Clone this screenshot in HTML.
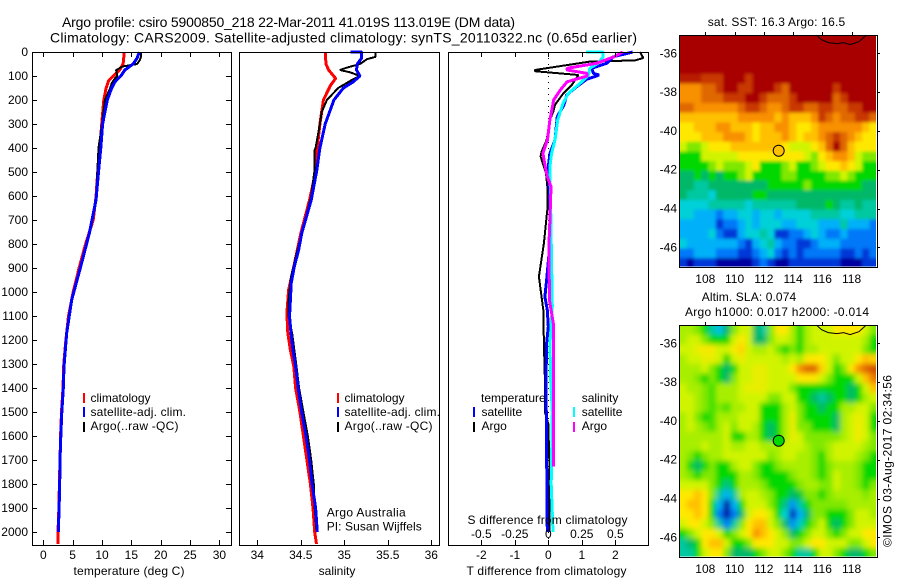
<!DOCTYPE html>
<html>
<head>
<meta charset="utf-8">
<title>Argo profile 5900850_218</title>
<style>
html,body{margin:0;padding:0;background:#fff;}
svg{display:block;}
text{font-family:"Liberation Sans",sans-serif;font-size:12px;fill:#000;}
.frame{fill:none;stroke:#000;stroke-width:1;shape-rendering:crispEdges;}
</style>
</head>
<body>
<svg id="chart" xmlns="http://www.w3.org/2000/svg" width="900" height="580" viewBox="0 0 900 580">
<defs>
<clipPath id="clip-sst"><rect x="679.5" y="35.5" width="196.5" height="231"/></clipPath>
<clipPath id="clip-sla"><rect x="679.5" y="325.5" width="196.5" height="231"/></clipPath>
<filter id="smooth-sla" filterUnits="userSpaceOnUse" x="640" y="290" width="280" height="300"><feGaussianBlur stdDeviation="2.6"/></filter>
<filter id="smooth-sst" filterUnits="userSpaceOnUse" x="640" y="0" width="280" height="300"><feGaussianBlur stdDeviation="1.6"/></filter>
</defs>

<text x="62" y="27" font-size="14" style="font-size:14px" textLength="453">Argo profile: csiro 5900850_218 22-Mar-2011 41.019S 113.019E (DM data)</text>
<text x="50" y="42.5" style="font-size:14px" textLength="587">Climatology: CARS2009. Satellite-adjusted climatology: synTS_20110322.nc (0.65d earlier)</text>

<g id="panels"></g>

<g>
<rect x="83" y="393" width="2" height="10" fill="#f00"/>
<rect x="83" y="407" width="2" height="10" fill="#00f"/>
<rect x="83" y="422" width="2" height="10" fill="#000"/>
<text x="90.5" y="402">climatology</text>
<text x="90.5" y="416" textLength="95.5">satellite-adj. clim.</text>
<text x="90.5" y="430" textLength="88">Argo(..raw -QC)</text>
</g>
<g>
<rect x="337" y="393" width="2" height="10" fill="#f00"/>
<rect x="337" y="407" width="2" height="10" fill="#00f"/>
<rect x="337" y="422" width="2" height="10" fill="#000"/>
<text x="344.5" y="402">climatology</text>
<text x="344.5" y="416" textLength="95.5">satellite-adj. clim.</text>
<text x="344.5" y="430" textLength="88">Argo(..raw -QC)</text>
</g>
<text x="326.7" y="516.5" textLength="79">Argo Australia</text>
<text x="326.7" y="530.5" textLength="95">PI: Susan Wijffels</text>

<g>
<text x="481" y="402">temperature</text>
<text x="581.7" y="402">salinity</text>
<rect x="473" y="407" width="2" height="10" fill="#00f"/>
<rect x="473" y="422" width="2" height="10" fill="#000"/>
<rect x="573" y="407" width="2" height="10" fill="#0ff"/>
<rect x="573" y="422" width="2" height="10" fill="#f0f"/>
<text x="481.5" y="416">satellite</text>
<text x="481.5" y="430">Argo</text>
<text x="581.7" y="416">satellite</text>
<text x="581.7" y="430">Argo</text>
</g>

<text x="129" y="575" text-anchor="middle" textLength="111">temperature (deg C)</text>
<text x="337" y="575" text-anchor="middle">salinity</text>
<text x="546.5" y="575" text-anchor="middle" textLength="160">T difference from climatology</text>
<text x="547.5" y="524" text-anchor="middle" textLength="160">S difference from climatology</text>

<text x="707.7" y="26" textLength="137.5">sat. SST: 16.3 Argo: 16.5</text>
<text x="701.7" y="301" textLength="94.5">Altim. SLA: 0.074</text>
<text x="685" y="316" textLength="184">Argo h1000: 0.017 h2000: -0.014</text>

<g id="maps"></g>

<text transform="translate(891.5,547) rotate(-90)" textLength="172">©IMOS 03-Aug-2017 02:34:56</text>
</svg>

<script>
// ---------- axis tick labels ----------
const depthTicks = [0,100,200,300,400,500,600,700,800,900,1000,1100,1200,1300,1400,1500,1600,1700,1800,1900,2000];
const tempTicks = [0,5,10,15,20,25,30];
const salTicks = [34,34.5,35,35.5,36];
const tDiffTicks = [-2,-1,0,1,2];
const sDiffTicks = [-0.5,-0.25,0,0.25,0.5];
const lonTicks = [108,110,112,114,116,118];
const latTicks = [-36,-38,-40,-42,-44,-46];

// ---------- temperature profiles ----------
const climTempDepths = [0,50,75,100,120,150,200,300,400,500,600,700,800,900,1000,1100,1200,1300,1400,1500,1600,1700,1800,1900,2000,2050];
const climTempValues = [13.8,13.6,13,11.9,11.1,10.7,10.3,9.95,9.66,9.27,9,8.5,7.2,6.1,5.1,4.3,3.85,3.5,3.35,3.1,2.95,2.85,2.75,2.65,2.5,2.5];
const argoTempDepths = [0,25,35,50,60,75,100,110,130,150,200,300,400,500,600,756,894,1033,1171,1310,1400,1500,1600,1700,1800,1900,2000];
const argoTempValues = [16.7,16.6,16.4,16,13.6,12.4,12.6,12.2,11.65,11.4,10.5,10,9.4,9.2,9,7.85,6.35,4.8,3.95,3.5,3.35,3.1,2.95,2.8,2.75,2.65,2.55];
const satTempDepths = [0,25,50,75,100,125,150,200,300,400,500,617,756,894,1033,1171,1310,1400,1500,1600,1700,1800,1900,2000];
const satTempValues = [16.35,16,15.3,13.9,13.2,12.2,11.65,10.9,10.1,9.8,9.4,8.98,7.84,6.37,4.84,3.98,3.53,3.4,3.15,2.98,2.85,2.8,2.7,2.55];

// ---------- salinity profiles ----------
const climSalDepths = [0,50,75,110,140,200,300,400,500,617,756,894,992,1088,1171,1242,1310,1400,1500,1600,1700,1800,1900,2000,2050];
const climSalValues = [34.78,34.79,34.82,34.9,34.84,34.76,34.72,34.69,34.67,34.6,34.5,34.42,34.36,34.34,34.35,34.38,34.42,34.44,34.49,34.53,34.57,34.61,34.64,34.66,34.68];
const argoSalDepths = [0,20,30,50,65,75,85,100,120,150,200,250,300,400,410,500,600,756,880,936,1033,1102,1171,1310,1400,1500,1600,1700,1800,1900,2000];
const argoSalValues = [35.36,35.36,35.26,35.18,35.03,34.95,35.07,35.18,35.07,34.93,34.8,34.74,34.72,34.67,34.655,34.655,34.62,34.51,34.425,34.387,34.36,34.36,34.4,34.45,34.48,34.53,34.58,34.62,34.65,34.66,34.68];
const satSalDepths = [0,0,25,50,75,100,125,150,200,300,400,500,617,756,825,894,963,1033,1102,1171,1242,1310,1400,1500,1600,1700,1800,1900,2000];
const satSalValues = [35.07,35.2,35.2,35.15,35.14,35.18,35.1,34.99,34.88,34.78,34.72,34.68,34.62,34.51,34.475,34.425,34.39,34.38,34.37,34.387,34.41,34.44,34.47,34.51,34.56,34.6,34.63,34.67,34.69];

// ---------- differences from climatology ----------
const argoTDiffDepths = [0,15,25,35,40,75,80,96,137,172,220,248,283,325,367,415,436,470,505,561,658,797,936,1075,1214,1367,1500,1550,1700,2000];
const argoTDiffValues = [2.74,2.79,2.84,2.59,1.24,-0.4,-0.4,0.9,0.7,0.45,0.2,0.15,0.05,0,-0.05,-0.2,-0.23,-0.15,-0.07,-0.03,-0.03,-0.13,-0.28,-0.15,-0.13,-0.1,-0.1,0,0.03,0.03];
const satTDiffDepths = [0,20,47,68,89,96,114,144,179,220,269,367,422,478,700,797,950,1020,1075,1145,1214,1367,2000];
const satTDiffValues = [2.52,1.94,1.74,1.3,1.35,1.52,1.14,0.85,0.55,0.47,0.27,0.2,0.05,0,0.07,0.05,-0.05,-0.1,-0.03,0,-0.05,-0.07,-0.03];
const satSDiffDepths = [0,0,20,47,68,96,124,172,214,283,367,422,478,658,1062,1214,1367,1500,1800,2000];
const satSDiffValues = [0.28,0.41,0.41,0.37,0.31,0.3,0.25,0.15,0.11,0.07,0.05,0.025,0.012,0.018,0.03,0.013,0.018,0.03,0.022,0.035];
const argoSDiffDepths = [0,20,47,68,75,89,100,124,158,200,283,367,422,470,520,561,700,797,1033,1130,1367,1728];
const argoSDiffValues = [0.555,0.49,0.36,0.14,0.14,0.29,0.29,0.14,0.09,0.04,0.012,-0.007,-0.04,-0.025,-0.007,0.02,0.012,0.005,0.008,0.037,0.037,0.037];

// ---------- map values: colour-scale level per 0.5 deg cell, north to south ----------
const sstLevels = [
[15,15,15,15,15,15,15,15,15,15,15,15,15,15,15,15,15,15,15,15,15,15,15,15,15,15,15],
[15,15,15,15,15,15,15,15,15,15,15,15,15,15,15,15,15,15,15,15,15,15,15,15,15,15,15],
[15,15,15,15,15,15,15,15,15,15,15,15,15,15,15,15,15,15,15,15,15,15,15,15,15,15,15],
[15,15,15,15,15,15,15,15,15,15,15,15,15,15,15,15,15,15,15,15,15,15,15,15,15,15,15],
[14.5,14.5,14.5,14,14,14,15,15,15,14,15,15,15,15,15,15,15,15,15,15,15,15,15,15,15,15,15],
[12,12,12,13,13,14,15,15,14,14,15,15,15,14,13,15,15,15,15,15,15,14,15,15,15,15,15],
[12,12,12,13,13,13,14,14,14,15,15,14,13,13,13,14,15,15,15,15,15,13,14,15,15,15,15],
[13,13,12,12,12,12,12,12,13,14,14,13,12,12,13,14,14,13,13,14,14,13,13,14,14,15,15],
[11,11,11,11,11,11,11,11,12,12,12,12,12,11,12,11,11,11,12,14,13,12,13,13,14,14,13],
[10,10,11,11,11,12,12,11,11,11,10,11,11,12,12,11,10,10,11,12,12,12,12,12,12,11,10],
[10,10,10,11,11,11,12,12,12,11,10,11,11,11,12,11,10,11,11,12,13,14,13,12,11,10,10],
[9,8,8,9,10,10,10,11,11,11,11,11,11,11,10,9,9,9,10,11,13,15,13,11,10,10,10],
[7,7,7,9,9,9,9,9,10,10,10,10,10,10,10,10,10,9,8,10,11,12,12,11,9,8,8],
[7,7,7,7,8,9,8,8,8,9,10,7,7,7,8,9,7,7,8,9,10,10,11,10,9,7,7],
[6,6,7,6,7,6,7,7,8,9,7,7,7,7,8,8,7,7,7,7,8,8,9,8,7,7,7],
[6,6,5,5,6,6,6,6,6,6,6,6,7,7,7,7,7,8,7,7,7,7,7,7,7,6,6],
[6,5,5,5,4,6,6,6,6,6,7,7,6,6,6,6,6,6,6,6,6,6,6,6,6,6,6],
[4,4,4,4,5,5,5,5,5,4,5,5,5,5,5,5,6,6,6,6,7,6,5,5,6,5,5],
[4,4,3,3,3,2,3,3,4,4,3,4,4,3,4,4,4,4,5,5,5,5,4,4,5,5,5],
[3,3,3,3,3,1,2,2,3,4,3,4,4,4,3,3,4,4,4,3,3,3,5,3,3,3,2],
[3,3,3,3,4,2,1,1,3,4,4,5,4,1,1,2,2,3,4,3,2,2,3,2,2,2,2],
[4,3,3,3,3,3,3,3,2,1,3,4,5,3,2,2,1,1,2,3,3,3,2,2,2,2,2],
[2,2,3,3,3,2,2,2,1,1,2,3,4,2,1,2,1,2,2,2,2,2,1,1,2,1,2],
[1,0,1,1,1,0,0,0,0,0,1,2,1,0,0,1,1,1,1,1,1,1,0,0,0,1,1]
];
const slaLevels = [
[8.5,8.5,8,7,5,3.5,6,8,9,9,6,5,8,10,10,8.5,7,8.5,9,9,9,10,10,10,10,9,8],
[8.5,9,9,8,7,7,7,9,10,9,6,6,8,9,9,8.5,7,8.5,9,9,9,9,9,9,9,8.5,7],
[9,9,9.6,9.8,9.8,9,9,9.8,10.5,9,8.5,8.5,9,8,7,8,7,8.5,8.5,9,9,9,9,9,9,8,7],
[8.5,9,9,9.5,9.5,9,7,9,9.6,9,9,9,9,9,8.5,9,8.5,10,10,10,9,8,9,9,10,11,10.5],
[8.5,8.5,8.5,9,8,7,6,7,9,9,9.5,9.5,9,9,9,10,12,13,13,10.5,9,7,8,10,12,13,13.5],
[8.5,8.5,8,7,8,7,6,8,9,9,9.5,9.5,9,9,9,9,10,10,10,9,8,7,7,7,9,11,12.5],
[9,8.5,8.5,8,7.5,8.5,8.5,8.5,9,9.5,9.5,9.5,9,9,9,8,7,7,7,7,7,7,7,6,7,9,11],
[9,9,8.5,8,7.5,8.5,8.5,8.5,9,9,9,9,8,8,9,9,7,7,6,5,6,7,7,6,7,8.5,9],
[9,9,8.5,8,7.5,8,7.5,8.5,8.5,9,9,7,7,7,8.5,9,8,7,7,6,7,7,8.5,8.5,9,9,8],
[8.5,9,8,7,7.5,8.5,8.5,8.5,9,9,9,7,7,7,8.5,9.5,8,7,7,7,7,6,8.5,9,9.6,9,7],
[8.5,9,8.5,8,7.5,8.5,9,8,9,9,8.5,7,6,7,8.5,9.5,8,8,7,7,7,6,8.5,9,9.7,9,7],
[8.5,8.5,8.5,8.5,8.5,8.5,9,7,7,8.5,8.5,7,6,7,8.5,9.5,9,8,8,8,8,8,8.5,9,9.7,9,8],
[8.5,8.5,8.5,9,8.5,8.5,9,8.5,8.5,9,9,8.5,8.5,8.5,9,9,9,8.5,8,8,8.5,9,9,9,9,8.5,8],
[8.5,8,7,8,8.5,8.5,9,9,9,9,9,9,8,8.5,9,9,8.5,8.5,8,7,8.5,9,9,9,8.5,8,7],
[8.5,7,6,7,8,7,7,8.5,9,9,8,7,7,8,8.5,8.5,8.5,8.5,8,7,8,8.5,8.5,8.5,8,7,7],
[8.5,8,7,8,8,7,7,7,8.5,8.5,8,7,7,7,7,8,8.5,8.5,8,7,8,9,8.5,8.5,8,7,7],
[9,9,9,9,8,7,5.5,7,8.5,8.5,8.5,8,7,7,7,7,8,8.5,8.5,8,8,9,8.5,8.5,8,7,8],
[10,10,11,10,8,5,3,5,8.5,9,9,8.5,8,7,7,6,6.5,8,8,7,8,8.5,8.5,8.5,8.5,8,8.5],
[10,11,11,10,7,3,0,3,7,9,9,9,8,7,5.5,2.5,5,7,8,8,8,8,8,8.5,8.5,8.5,8.5],
[10,10,11,10,7,2,0,2,6,9,10,10,9,7,4,0.5,3,6,8,8,7,7,7,8,9,9,8.5],
[9,10,10,9,8,5,2,5,8,10,11,11,9,8,6,2.5,4.5,7,8,9,7,6,7,8,9,9,9],
[7,8,9,10,10,9,7,8,9,10,12,11,10,9,8,6,7,8,9,9,8,7,8,9,9,10,10],
[5,6,7,10,11,11,9,7,7,8,10,10,10,9,9,8,8,9,10,10,9,9,9,8,8,9,10],
[5,5,7,9,10,10,8,6,6,6,7,8,9,9,8,7,5,5,7,9,9,8,7,6,6,7,8]
];
const colorScale = [[0,0,160],[0,56,216],[0,120,248],[0,176,248],[0,208,216],[0,200,160],[0,184,104],[0,216,0],[128,232,0],[208,244,0],[255,232,0],[255,192,0],[248,144,0],[224,104,0],[200,56,0],[168,0,0]];
const contourLons = [115.6,115.95,116.4,117,117.45,117.9,118.5,119];
const contourLats = [-35.06,-35.3,-35.45,-35.5,-35.45,-35.55,-35.4,-35.06];
const argoLon = 113.019;
const argoLat = -41.019;
const argoSstLevel = 11;
const argoSlaLevel = 7;

// ---------- helpers ----------
const NS = 'http://www.w3.org/2000/svg';
const panelsG = document.getElementById('panels');
const mapsG = document.getElementById('maps');

function make(tag, parent, attrs) {
  const el = document.createElementNS(NS, tag);
  for (const k in attrs) el.setAttribute(k, attrs[k]);
  parent.appendChild(el);
  return el;
}
function yDepth(d) { return 52 + 0.24 * d; }
function xTemp(t) { return 43.3 + 5.87 * t; }
function xSal(s) { return 257.3 + 87 * (s - 34); }
function xTDiff(t) { return 548.3 + 33.5 * t; }
function xSDiff(s) { return 548.3 + 134 * s; }
function xLon(lon) { return 705.3 + 14.63 * (lon - 108); }
function yLatSst(lat) { return 53.3 + 19.4 * (-36 - lat); }
function yLatSla(lat) { return 343.3 + 19.4 * (-36 - lat); }

function levelColor(v) {
  const n = colorScale.length - 1;
  const c = Math.max(0, Math.min(n, v));
  const i = Math.min(n - 1, Math.floor(c));
  const f = c - i;
  const a = colorScale[i];
  const b = colorScale[i + 1];
  return 'rgb(' + Math.round(a[0] + (b[0] - a[0]) * f) + ',' + Math.round(a[1] + (b[1] - a[1]) * f) + ',' + Math.round(a[2] + (b[2] - a[2]) * f) + ')';
}

function drawFrame(parent, name, x0, y0, x1, y1) {
  const r = make('rect', parent, {x: x0 + 0.5, y: y0 + 0.5, width: x1 - x0, height: y1 - y0, 'class': 'frame'});
  
  
}
function drawTick(parent, name, x1, y1, x2, y2) {
  const t = make('line', parent, {x1: x1, y1: y1, x2: x2, y2: y2, stroke: '#000', 'stroke-width': 1, 'shape-rendering': 'crispEdges'});
  
  
}
function drawLabel(parent, name, x, y, anchor, str) {
  const t = make('text', parent, {x: x, y: y, 'text-anchor': anchor});
  t.textContent = str;
  
  
}
function drawProfile(parent, name, depths, values, xFn, color, width) {
  const pts = depths.map(function (d, i) { return xFn(values[i]).toFixed(1) + ',' + yDepth(d).toFixed(1); }).join(' ');
  const p = make('polyline', parent, {points: pts, fill: 'none', stroke: color, 'stroke-width': width, 'shape-rendering': 'crispEdges', 'stroke-linejoin': 'bevel'});
  
  
}

// ---------- temperature panel ----------
const tempPanel = make('g', panelsG, {});


drawProfile(tempPanel, 'temperature-climatology-line', climTempDepths, climTempValues, xTemp, '#f00', 3);
drawProfile(tempPanel, 'temperature-argo-line', argoTempDepths, argoTempValues, xTemp, '#000', 2);
drawProfile(tempPanel, 'temperature-satellite-line', satTempDepths, satTempValues, xTemp, '#00f', 3);
drawFrame(tempPanel, 'temperature-plot-frame', 32, 52, 231, 545);
depthTicks.forEach(function (d) {
  drawTick(tempPanel, 'depth-tick-left', 32, Math.round(yDepth(d)) + 0.5, 37, Math.round(yDepth(d)) + 0.5);
  drawTick(tempPanel, 'depth-tick-right', 226, Math.round(yDepth(d)) + 0.5, 231, Math.round(yDepth(d)) + 0.5);
  drawLabel(tempPanel, 'depth-tick-label', 28, yDepth(d) + 4, 'end', String(d));
});
tempTicks.forEach(function (v) {
  const x = Math.round(xTemp(v)) + 0.5;
  drawTick(tempPanel, 'temperature-tick-bottom', x, 540, x, 545);
  drawTick(tempPanel, 'temperature-tick-top', x, 52, x, 57);
  drawLabel(tempPanel, 'temperature-tick-label', xTemp(v), 559, 'middle', String(v));
});

// ---------- salinity panel ----------
const salPanel = make('g', panelsG, {});


drawProfile(salPanel, 'salinity-climatology-line', climSalDepths, climSalValues, xSal, '#f00', 3);
drawProfile(salPanel, 'salinity-argo-line', argoSalDepths, argoSalValues, xSal, '#000', 2);
drawProfile(salPanel, 'salinity-satellite-line', satSalDepths, satSalValues, xSal, '#00f', 3);
drawFrame(salPanel, 'salinity-plot-frame', 239, 52, 439, 545);
salTicks.forEach(function (v) {
  const x = Math.round(xSal(v)) + 0.5;
  drawTick(salPanel, 'salinity-tick-bottom', x, 540, x, 545);
  drawLabel(salPanel, 'salinity-tick-label', xSal(v), 559, 'middle', String(v));
});

// ---------- difference panel ----------
const diffPanel = make('g', panelsG, {});


const zeroLine = make('line', diffPanel, {x1: 548.5, y1: 52, x2: 548.5, y2: 545, stroke: '#000', 'stroke-width': 1, 'stroke-dasharray': '1 5', 'shape-rendering': 'crispEdges'});


drawProfile(diffPanel, 't-diff-argo-line', argoTDiffDepths, argoTDiffValues, xTDiff, '#000', 2);
drawProfile(diffPanel, 't-diff-satellite-line', satTDiffDepths, satTDiffValues, xTDiff, '#00f', 3);
drawProfile(diffPanel, 's-diff-satellite-line', satSDiffDepths, satSDiffValues, xSDiff, '#0ff', 3);
drawProfile(diffPanel, 's-diff-argo-line', argoSDiffDepths, argoSDiffValues, xSDiff, '#f0f', 3);
drawFrame(diffPanel, 'difference-plot-frame', 448, 52, 648, 545);
tDiffTicks.forEach(function (v) {
  const x = Math.round(xTDiff(v)) + 0.5;
  drawTick(diffPanel, 't-diff-tick-bottom', x, 540, x, 545);
  drawTick(diffPanel, 't-diff-tick-top', x, 52, x, 57);
  drawLabel(diffPanel, 't-diff-tick-label', xTDiff(v), 559, 'middle', String(v));
});
sDiffTicks.forEach(function (v) {
  drawLabel(diffPanel, 's-diff-tick-label', xSDiff(v), 538, 'middle', String(v));
});

// ---------- maps ----------
function drawMap(name, levels, yFn, top, clipId, filterId, markerLevel) {
  const map = make('g', mapsG, {});
  
  
  const clip = make('g', map, {'clip-path': 'url(#' + clipId + ')'});
  const cells = make('g', clip, {filter: 'url(#' + filterId + ')'});
  const startLon = 106.22;
  const startLat = -35.06;
  levels.forEach(function (row, r) {
    row.forEach(function (v, c) {
      let x0 = xLon(startLon + c * 0.5);
      let x1 = xLon(startLon + (c + 1) * 0.5) + 0.5;
      let y0 = yFn(startLat - r * 0.5);
      let y1 = yFn(startLat - (r + 1) * 0.5) + 0.5;
      if (c === 0) x0 -= 14;
      if (c === row.length - 1) x1 += 14;
      if (r === 0) y0 -= 14;
      if (r === levels.length - 1) y1 += 14;
      const cell = make('rect', cells, {x: x0.toFixed(2), y: y0.toFixed(2), width: (x1 - x0).toFixed(2), height: (y1 - y0).toFixed(2), fill: levelColor(v)});
      
      
    });
  });
  const pts = contourLons.map(function (lon, i) { return xLon(lon).toFixed(1) + ',' + yFn(contourLats[i]).toFixed(1); }).join(' ');
  const contour = make('polyline', map, {points: pts, fill: 'none', stroke: '#000', 'stroke-width': 1});
  
  
  drawFrame(map, name + '-frame', 679, top, 877, top + 232);
  lonTicks.forEach(function (lon) {
    const x = Math.round(xLon(lon)) + 0.5;
    drawTick(map, 'longitude-tick', x, top - 3, x, top);
    drawLabel(map, 'longitude-tick-label', xLon(lon), top + 248, 'middle', String(lon));
  });
  latTicks.forEach(function (lat) {
    const y = Math.round(yFn(lat)) + 0.5;
    drawTick(map, 'latitude-tick', 877, y, 880, y);
    drawLabel(map, 'latitude-tick-label', 677, yFn(lat) + 4, 'end', String(lat));
  });
  const marker = make('circle', map, {cx: xLon(argoLon).toFixed(1), cy: yFn(argoLat).toFixed(1), r: 5.5, fill: levelColor(markerLevel), stroke: '#000', 'stroke-width': 1});
  
  
}
drawMap('sst-map', sstLevels, yLatSst, 35, 'clip-sst', 'smooth-sst', argoSstLevel);
drawMap('sla-map', slaLevels, yLatSla, 325, 'clip-sla', 'smooth-sla', argoSlaLevel);
</script>
</body>
</html>
